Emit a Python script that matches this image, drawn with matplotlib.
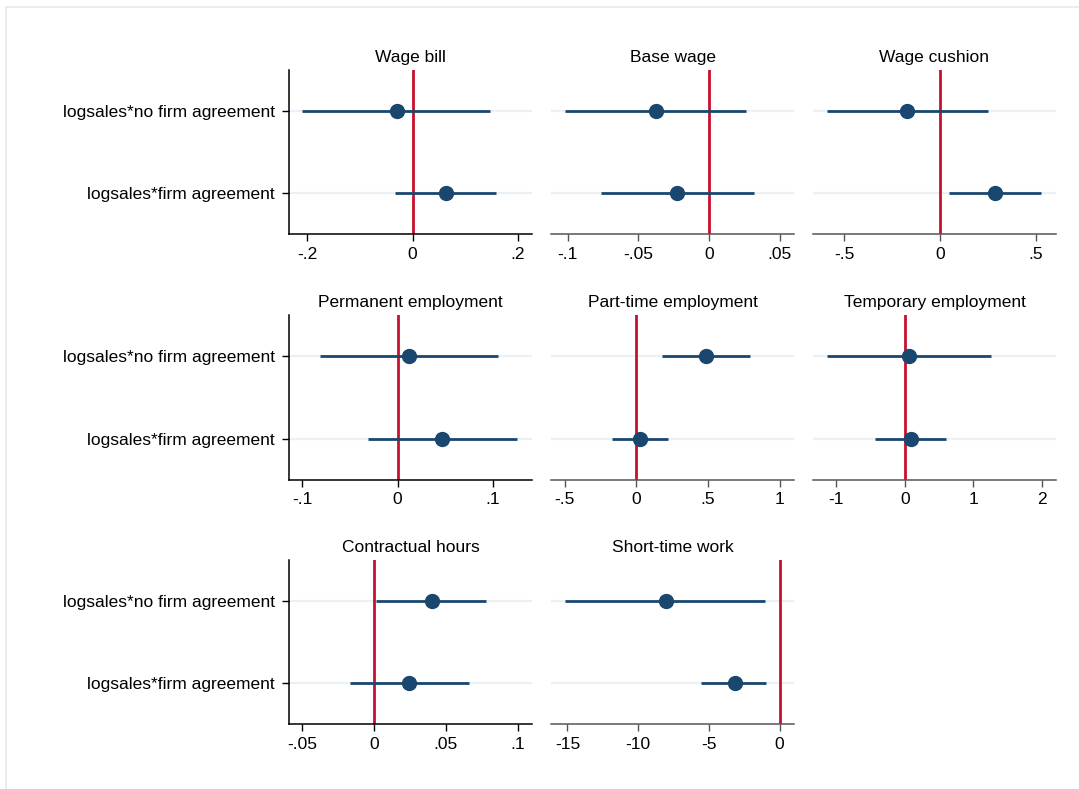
import matplotlib
matplotlib.use("Agg")
import matplotlib.pyplot as plt
from matplotlib.patches import Rectangle

plt.rcParams['font.family'] = ['Liberation Sans', 'DejaVu Sans']

titles = ["Wage bill", "Base wage", "Wage cushion",
          "Permanent employment", "Part-time employment", "Temporary employment",
          "Contractual hours", "Short-time work"]
row_labels = ["logsales*no firm agreement", "logsales*firm agreement"]

coef_no = [-0.030, -0.0377, -0.170, 0.012, 0.487, 0.065, 0.040, -8.05]
lo_no   = [-0.210, -0.102, -0.588, -0.081, 0.18, -1.134, 0.0012, -15.2]
hi_no   = [0.148, 0.0263, 0.249, 0.105, 0.792, 1.264, 0.078, -1.0]
coef_fa = [0.063, -0.0223, 0.290, 0.047, 0.026, 0.085, 0.0244, -3.18]
lo_fa   = [-0.034, -0.0763, 0.048, -0.031, -0.168, -0.44, -0.017, -5.52]
hi_fa   = [0.159, 0.0316, 0.530, 0.125, 0.223, 0.597, 0.066, -0.95]

xticks = [[-0.2, 0, 0.2], [-0.1, -0.05, 0, 0.05], [-0.5, 0, 0.5],
          [-0.1, 0, 0.1], [-0.5, 0, 0.5, 1], [-1, 0, 1, 2],
          [-0.05, 0, 0.05, 0.1], [-15, -10, -5, 0]]
xticklabels = [["-.2", "0", ".2"], ["-.1", "-.05", "0", ".05"], ["-.5", "0", ".5"],
               ["-.1", "0", ".1"], ["-.5", "0", ".5", "1"], ["-1", "0", "1", "2"],
               ["-.05", "0", ".05", ".1"], ["-15", "-10", "-5", "0"]]
xlims = [(-0.235, 0.227), (-0.1115, 0.060), (-0.66, 0.604),
         (-0.114, 0.141), (-0.594, 1.098), (-1.336, 2.2),
         (-0.0593, 0.110), (-16.14, 1.0)]

W, H = 1079, 789
fig = plt.figure(figsize=(W / 100, H / 100), dpi=100)

# light frame of the page
fig.patches.append(Rectangle((6 / W, -0.01), 1.1, 1 - 7 / H + 0.01, transform=fig.transFigure,
                             fill=False, edgecolor='#e4eaee', linewidth=1.2))

col_x = [(289, 532), (551.3, 793.7), (813.3, 1055.6)]
row_y = [(70, 234.3), (315, 480), (560, 724.3)]

navy = '#1a476f'
red = '#c8102e'
fs = 12.5

for i in range(8):
    r, c = divmod(i, 3)
    x0, x1 = col_x[c]
    y0, y1 = row_y[r]
    ax = fig.add_axes([x0 / W, 1 - y1 / H, (x1 - x0) / W, (y1 - y0) / H])
    ax.set_facecolor('white')
    ys = [1, 2]
    for yy in ys:
        ax.axhline(yy, color='#eaf0f3', linewidth=1.6, zorder=0)
    ax.axvline(0, color=red, linewidth=2.0, zorder=1)
    ax.hlines(ys, [lo_no[i], lo_fa[i]], [hi_no[i], hi_fa[i]], color=navy, linewidth=2.0, zorder=2)
    ax.plot([coef_no[i], coef_fa[i]], ys, 'o', color=navy, markersize=10, zorder=3)
    ax.set_xlim(*xlims[i])
    ax.set_ylim(2.5, 0.5)
    ax.set_xticks(xticks[i])
    ax.set_xticklabels(xticklabels[i], fontsize=fs)
    ax.set_title(titles[i], fontsize=fs, pad=6)
    for s in ['top', 'right']:
        ax.spines[s].set_visible(False)
    if c == 0:
        axc = 'black'
        ax.set_yticks(ys)
        ax.set_yticklabels(row_labels, fontsize=fs)
        ax.spines['left'].set_color('black')
        ax.spines['left'].set_linewidth(1.1)
        ax.tick_params(axis='y', direction='out', length=5, width=1.0, pad=5, color='black')
    else:
        axc = '#555555'
        ax.spines['left'].set_visible(False)
        ax.set_yticks([])
    ax.spines['bottom'].set_color(axc)
    ax.spines['bottom'].set_linewidth(1.1)
    ax.tick_params(axis='x', direction='out', length=5, width=1.0, pad=4, color=axc)

fig.savefig("out.png", dpi=100)
